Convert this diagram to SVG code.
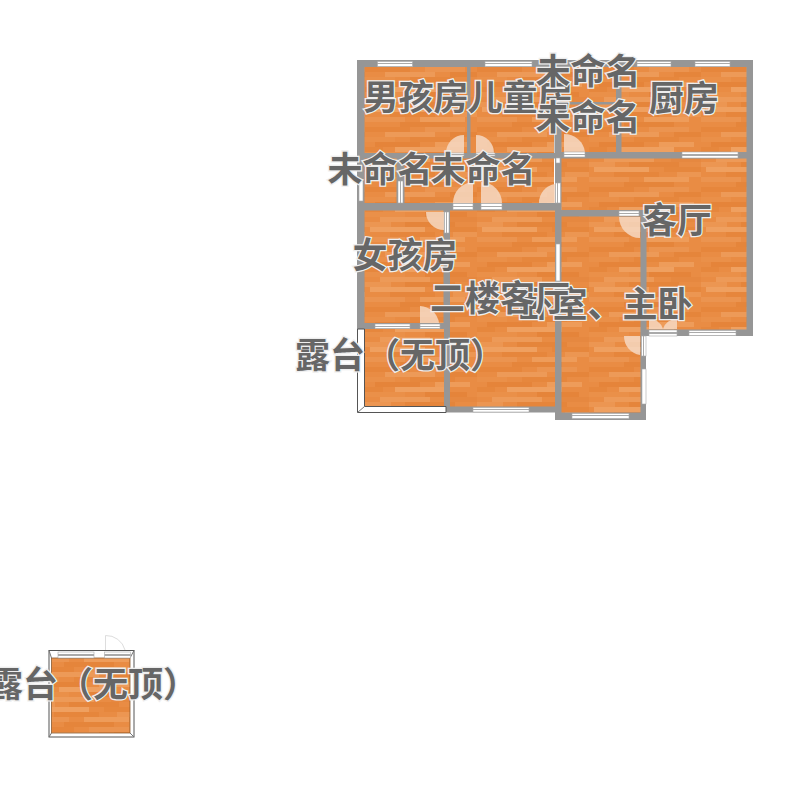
<svg xmlns="http://www.w3.org/2000/svg" width="800" height="800" viewBox="0 0 800 800">
<style>
.wall{fill:#969696}
.floor{fill:url(#wood)}
.win{fill:url(#wh);stroke:#a8a8a8;stroke-width:.6}
.wv{fill:url(#wv);stroke:#a8a8a8;stroke-width:.6}
.door{fill:#f6d8c2;fill-opacity:.85}
.thin{fill:#fff;stroke:#555;stroke-width:1}
.lbl{font-family:"Noto Sans CJK SC","Noto Sans",sans-serif;font-size:35px;font-weight:700;fill:#666;stroke:#eee;stroke-width:2.600px;paint-order:stroke;text-anchor:middle}
</style>
<defs>
<linearGradient id="wh" x1="0" y1="0" x2="0" y2="1"><stop offset="0" stop-color="#fff"/><stop offset=".4" stop-color="#fff"/><stop offset=".4" stop-color="#aaa"/><stop offset=".6" stop-color="#aaa"/><stop offset=".6" stop-color="#fff"/><stop offset="1" stop-color="#fff"/></linearGradient>
<linearGradient id="wv" x1="0" y1="0" x2="1" y2="0"><stop offset="0" stop-color="#fff"/><stop offset=".4" stop-color="#fff"/><stop offset=".4" stop-color="#aaa"/><stop offset=".6" stop-color="#aaa"/><stop offset=".6" stop-color="#fff"/><stop offset="1" stop-color="#fff"/></linearGradient>
<pattern id="wood" width="112" height="60" patternUnits="userSpaceOnUse" x="365" y="67">
<rect width="112" height="60" fill="#e98c44"/>
<rect x="0" y="0" width="45" height="5" fill="#e6863c"/><rect x="60" y="0" width="40" height="5" fill="#eb9450"/>
<rect x="20" y="5" width="50" height="5" fill="#ed9a58"/><rect x="85" y="5" width="27" height="5" fill="#e5853b"/>
<rect x="0" y="10" width="30" height="5" fill="#ea9049"/><rect x="45" y="10" width="45" height="5" fill="#e6873d"/>
<rect x="10" y="15" width="45" height="5" fill="#e5843a"/><rect x="70" y="15" width="35" height="5" fill="#ee9c5a"/>
<rect x="30" y="20" width="55" height="5" fill="#efa060"/><rect x="0" y="20" width="18" height="5" fill="#e6873d"/>
<rect x="0" y="25" width="40" height="5" fill="#ea9049"/><rect x="60" y="25" width="42" height="5" fill="#e5843a"/>
<rect x="15" y="30" width="50" height="5" fill="#ed9a58"/><rect x="82" y="30" width="30" height="5" fill="#e68840"/>
<rect x="40" y="35" width="50" height="5" fill="#e5853b"/><rect x="0" y="35" width="26" height="5" fill="#ec9652"/>
<rect x="5" y="40" width="55" height="5" fill="#efa060"/><rect x="75" y="40" width="37" height="5" fill="#e6873d"/>
<rect x="25" y="45" width="45" height="5" fill="#e6863c"/><rect x="88" y="45" width="24" height="5" fill="#ec9652"/>
<rect x="0" y="50" width="40" height="5" fill="#eb9450"/><rect x="55" y="50" width="45" height="5" fill="#ee9c5a"/>
<rect x="35" y="55" width="50" height="5" fill="#e5853b"/>
</pattern>
</defs>
<g id="upper-floor">
<g id="floors">
<rect class="floor" x="364" y="67" width="190" height="86"/>
<rect class="floor" x="364" y="158" width="190" height="46"/>
<rect class="floor" x="561" y="67" width="186" height="86"/>
<rect class="floor" x="561" y="158" width="186" height="172"/>
<rect class="floor" x="364" y="210" width="80" height="114"/>
<rect class="floor" x="450" y="210" width="105" height="197"/>
<rect class="floor" x="561" y="216" width="80" height="197"/>
<rect class="floor" x="364" y="329" width="80" height="78"/>
</g>
<g id="walls">
<path class="wall" fill-rule="evenodd" d="M357 60H753V336H646V420H555V412.500H444V329H357ZM364.500 67V153H467V67ZM470.500 67V153H554.500V67ZM561.500 67V102H616V67ZM561.500 104.500V152H616V104.500ZM621.500 67V152H746.500V67ZM364.500 158.500V203H396.500V158.500ZM404.500 158.500V203H555V158.500ZM561.500 158.500H746.500V329.500H646.500V210H561.500ZM364.500 210.500V323H443.500V210.500ZM450 210.500V406.500H555V210.500ZM561.500 216.500V412.500H640.500V216.500Z"/>
</g>
<g id="terrace-edge">
<path class="thin" d="M357.500 329V412.500H446V406.500H364.500V329Z"/>
<path d="M357.500 412.500L364.500 406.500" stroke="#777" fill="none"/>
</g>
<g id="doors">
<path class="door" d="M464 153V135A18 18 0 0 0 446 153Z"/>
<path class="door" d="M476 153V135A18 18 0 0 1 494 153Z"/>
<path class="door" d="M473 203V182A21 21 0 0 0 453 203Z"/>
<path class="door" d="M481 203V182A21 21 0 0 1 502 203Z"/>
<path class="door" d="M444 212H426A18 18 0 0 0 444 230Z"/>
<path class="door" d="M555 203V184A19 19 0 0 0 539 203Z"/>
<path class="door" d="M564 152V134A21 21 0 0 1 585 152Z"/>
<path class="door" d="M640 217H619A21 21 0 0 0 640 238Z"/>
<path class="door" d="M420 323V306A20 20 0 0 1 439 323Z"/>
<path class="door" d="M640 336H624A19 19 0 0 0 640 355Z"/>
<path class="door" d="M649 329V319A14 14 0 0 1 663 329Z"/>
<path class="door" d="M677 329V319A14 14 0 0 0 663 329Z"/>
</g>
<g id="windows">
<rect class="win" x="377.500" y="61.500" width="35" height="5"/>
<rect class="win" x="485" y="61.500" width="47" height="5"/>
<rect class="win" x="637" y="61.500" width="34" height="5"/>
<rect class="win" x="695" y="61.500" width="35" height="5"/>
<rect class="win" x="682" y="152" width="56" height="6"/>
<rect class="wv" x="359" y="181" width="4" height="20"/>
<rect class="wv" x="398" y="181" width="5" height="22"/>
<rect class="wv" x="556" y="158" width="4" height="5"/>
<rect class="wv" x="556" y="244" width="4" height="37"/>
<rect class="win" x="689" y="330.500" width="47" height="5"/>
<rect class="wv" x="642" y="369" width="4" height="35"/>
<rect class="win" x="572" y="413.500" width="57" height="5"/>
<rect class="win" x="473" y="407.500" width="56" height="4.500"/>
<rect class="win" x="375" y="324" width="35" height="4.500"/>
<rect class="win" x="447" y="153" width="17" height="3"/>
<rect class="win" x="476" y="153" width="19" height="3"/>
<rect class="win" x="453" y="203.500" width="20" height="6"/>
<rect class="win" x="481" y="203.500" width="21" height="6"/>
<rect class="wv" x="444.500" y="212" width="4.500" height="21"/>
<rect class="wv" x="555.500" y="183" width="5" height="20"/>
<rect class="win" x="564" y="152" width="21" height="5"/>
<rect class="win" x="619" y="211" width="20" height="5"/>
<rect class="win" x="420" y="324" width="20" height="4.500"/>
<rect class="wv" x="641.500" y="336" width="4.500" height="20"/>
<rect class="win" x="649" y="330" width="28" height="6"/>
</g>
</g>
<g id="lower-floor">
<rect class="thin" x="49" y="650.500" width="85" height="86.500"/>
<rect class="floor" x="51.500" y="658" width="78.500" height="75" stroke="#8a5a30" stroke-width=".8"/>
<path d="M49 650.500L51.500 658M134 650.500L130 658M49 737L51.500 733M134 737L130 733" stroke="#777" fill="none"/>
<rect class="win" x="58" y="652" width="36" height="6"/>
<rect class="win" x="104.500" y="652" width="26" height="6"/>
<path d="M105.500 650V635.500A19.500 19.500 0 0 1 125 650" fill="#fff" stroke="#ddd"/>
</g>
<g id="labels">
<text class="lbl" x="416" y="110">男孩房</text>
<text class="lbl" x="520" y="110">儿童房</text>
<text class="lbl" x="588" y="84">未命名</text>
<text class="lbl" x="588" y="130">未命名</text>
<text class="lbl" x="684" y="111">厨房</text>
<text class="lbl" x="380" y="182">未命名</text>
<text class="lbl" x="483" y="182">未命名</text>
<text class="lbl" x="405" y="268">女孩房</text>
<text class="lbl" x="677" y="233">客厅</text>
<text class="lbl" x="605" y="317">卧室、主卧</text>
<text class="lbl" x="500" y="311">二楼客厅</text>
<text class="lbl" x="400" y="368">露台（无顶）</text>
<text class="lbl" x="93" y="697">露台（无顶）</text>
</g>
</svg>
